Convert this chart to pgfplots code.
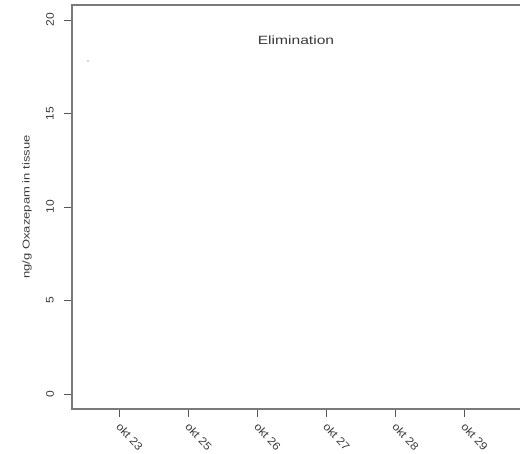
\documentclass[border=0pt]{standalone}
\usepackage{pgfplots}
\pgfplotsset{compat=1.18}
\usepackage{fontspec}
\setmainfont{Liberation Sans}
\newfontfamily\widefont[FakeStretch=1.3]{Liberation Sans}
\newfontfamily\ticfont[FakeStretch=1.1]{Liberation Sans}
\definecolor{framegray}{HTML}{7A7A7A}
\definecolor{tickgray}{HTML}{555555}
\definecolor{txtgray}{HTML}{3A3A3A}
\begin{document}
\begin{tikzpicture}
\begin{axis}[
  at={(0,0)}, anchor=south west,
  scale only axis,
  width=452pt, height=404pt,
  xmin=-0.681, xmax=5.87,
  ymin=-0.8, ymax=20.8,
  axis line style={framegray, line width=1.3pt},
  xtick={0,1,2,3,4,5},
  xticklabels={okt 23,okt 25,okt 26,okt 27,okt 28,okt 29},
  ytick={0,5,10,15,20},
  tick align=outside,
  xtick pos=bottom, ytick pos=left,
  major tick length=8pt,
  tick style={tickgray, line width=0.8pt},
  /pgf/number format/assume math mode=true,
  xticklabel style={yshift=-5pt, xshift=-3pt, rotate=-47, anchor=west, font=\ticfont\fontsize{11}{13}\selectfont, text=txtgray},
  yticklabel style={xshift=-14pt, rotate=90, anchor=center, font=\ticfont\fontsize{11}{13}\selectfont, text=txtgray},
  ylabel={ng/g Oxazepam in tissue},
  every axis y label/.style={at={([xshift=-45pt]rel axis cs:0,0.5)}, rotate=90, anchor=center, font=\widefont\fontsize{10}{12}\selectfont, text=txtgray},
  clip=false,
]
\addplot[only marks, mark=*, mark size=1pt, color=gray!35] coordinates {(-0.45,17.8)};
\node[font=\widefont\fontsize{12}{14}\selectfont, text=txtgray] at (axis cs:2.565,18.93) {Elimination};
\end{axis}
\pgfresetboundingbox
\path[use as bounding box] (-72pt,-45pt) rectangle (448pt,409pt);
\end{tikzpicture}
\end{document}
